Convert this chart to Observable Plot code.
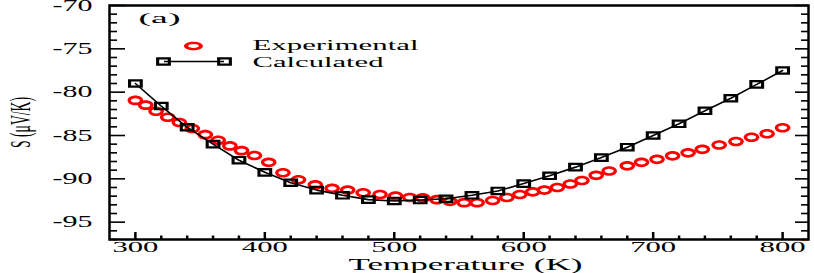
<!DOCTYPE html>
<html>
<head>
<meta charset="utf-8">
<script src="https://cdn.jsdelivr.net/npm/d3@7"></script>
<script src="https://cdn.jsdelivr.net/npm/@observablehq/plot@0.6"></script>
<style>
  html, body { margin: 0; padding: 0; background: #fff; }
  #chart svg { display: block; }
</style>
</head>
<body>
<div id="chart"></div>
<script>
// ---- Data ----
const calcT = [300,320,340,360,380,400,420,440,460,480,500,520,540,560,580,600,620,640,660,680,700,720,740,760,780,800];
const calcS = [-79.0,-81.6,-84.05,-86.0,-87.85,-89.25,-90.45,-91.3,-91.9,-92.4,-92.55,-92.45,-92.3,-91.9,-91.4,-90.55,-89.65,-88.65,-87.55,-86.35,-85.0,-83.65,-82.15,-80.7,-79.1,-77.5];

const expT = [300,308,316,325,334,344,354,364,373,382,392,403,414,426,439,452,464,476,489,501,512,522,533,543,554,564,576,587,597,607,616,626,636,645,656,666,680,691,703,715,727,738,751,764,776,788,800];
const expS = [-80.95,-81.5,-82.2,-82.9,-83.5,-84.2,-84.9,-85.55,-86.2,-86.75,-87.3,-88.1,-89.3,-90.1,-90.7,-91.1,-91.3,-91.6,-91.8,-92.0,-92.15,-92.2,-92.4,-92.6,-92.75,-92.75,-92.5,-92.15,-91.8,-91.5,-91.3,-91.0,-90.6,-90.2,-89.6,-89.1,-88.5,-88.1,-87.75,-87.35,-87.0,-86.6,-86.1,-85.7,-85.2,-84.8,-84.1];

const xMajor = [300,400,500,600,700,800];
const yMajor = [-95,-90,-85,-80,-75,-70];
const xMinor = d3.range(300, 801, 20).filter(v => v % 100 !== 0);
const yMinor = d3.range(-97, -70, 1).filter(v => v % 5 !== 0);

const seriesNames = ["Experimental", "Calculated"];
const panelLabel = "(a)";
const xLabel = "Temperature (K)";
const yLabel = "S (\u03BCV/K)";

const calc = calcT.map((t, i) => ({T: t, S: calcS[i]}));
const exp = expT.map((t, i) => ({T: t, S: expS[i]}));

// ---- custom symbols (rings with thicker sides, like the stretched original) ----
function ellipsePath(ctx, rx, ry, cw) {
  const k = 0.5523;
  ctx.moveTo(rx, 0);
  if (cw) {
    ctx.bezierCurveTo(rx, k*ry, k*rx, ry, 0, ry);
    ctx.bezierCurveTo(-k*rx, ry, -rx, k*ry, -rx, 0);
    ctx.bezierCurveTo(-rx, -k*ry, -k*rx, -ry, 0, -ry);
    ctx.bezierCurveTo(k*rx, -ry, rx, -k*ry, rx, 0);
  } else {
    ctx.bezierCurveTo(rx, -k*ry, k*rx, -ry, 0, -ry);
    ctx.bezierCurveTo(-k*rx, -ry, -rx, -k*ry, -rx, 0);
    ctx.bezierCurveTo(-rx, k*ry, -k*rx, ry, 0, ry);
    ctx.bezierCurveTo(k*rx, ry, rx, k*ry, rx, 0);
  }
  ctx.closePath();
}
function rectPath(ctx, hw, hh, cw) {
  if (cw) {
    ctx.moveTo(-hw, -hh); ctx.lineTo(hw, -hh); ctx.lineTo(hw, hh); ctx.lineTo(-hw, hh);
  } else {
    ctx.moveTo(-hw, -hh); ctx.lineTo(-hw, hh); ctx.lineTo(hw, hh); ctx.lineTo(hw, -hh);
  }
  ctx.closePath();
}
const ringEllipse = (a, b, c, d) => ({draw(ctx) { ellipsePath(ctx, a, b, true); ellipsePath(ctx, c, d, false); }});
const ringRect = (a, b, c, d) => ({draw(ctx) { rectPath(ctx, a, b, true); rectPath(ctx, c, d, false); }});
const hSegment = (half) => ({draw(ctx) { ctx.moveTo(-half, 0); ctx.lineTo(half, 0); }});

const expSym = ringEllipse(7.8, 4.8, 4.5, 2.2);
const calcSym = ringRect(7.4, 4.3, 4.3, 2.1);
const legExpSym = ringEllipse(9.5, 4.3, 5.4, 1.9);

// ---- geometry ----
const W = 814, H = 273, mL = 109, mR = 6, mT = 5, mB = 34;
const fw = W - mL - mR, fh = H - mT - mB;
const FONT = "Liberation Serif";

const chart = Plot.plot({
  width: W, height: H,
  marginLeft: mL, marginRight: mR, marginTop: mT, marginBottom: mB,
  style: {fontFamily: FONT, background: "#fff", color: "#000", overflow: "visible"},
  x: {domain: [280, 820], axis: null},
  y: {domain: [-97, -70], axis: null},
  marks: [
    // ticks (inward)
    Plot.tickX(xMajor, {x: d => d, stroke: "#000", strokeWidth: 2.5, insetTop: fh - 7}),
    Plot.tickX(xMinor, {x: d => d, stroke: "#000", strokeWidth: 2.5, insetTop: fh - 3.5}),
    Plot.tickY(yMajor, {y: d => d, stroke: "#000", strokeWidth: 1.6, insetRight: fw - 16}),
    Plot.tickY(yMinor, {y: d => d, stroke: "#000", strokeWidth: 1.6, insetRight: fw - 8}),
    Plot.tickY(yMajor, {y: d => d, stroke: "#000", strokeWidth: 1.6, insetLeft: fw - 13}),
    Plot.tickY(yMinor, {y: d => d, stroke: "#000", strokeWidth: 1.6, insetLeft: fw - 7}),
    Plot.frame({stroke: "#000", strokeWidth: 2.5}),
    // axis labels
    Plot.axisX({ticks: xMajor, tickSize: 0, tickPadding: 3, fontSize: 14, label: null, tickFormat: d => String(d)}),
    Plot.axisY({ticks: yMajor, tickSize: 0, tickPadding: 17, fontSize: 16, label: null, tickFormat: d => "-" + Math.abs(d)}),
    // data
    Plot.dot(exp, {x: "T", y: "S", symbol: expSym, fill: "#ff0000"}),
    Plot.line(calc, {x: "T", y: "S", stroke: "#000", strokeWidth: 1.6}),
    Plot.dot(calc, {x: "T", y: "S", symbol: calcSym, fill: "#000"}),
    // legend
    Plot.text([panelLabel], {frameAnchor: "top-left", dx: 29, dy: 17, text: d => d, textAnchor: "start", lineAnchor: "bottom", fontSize: 15, fill: "#000"}),
    Plot.dot([seriesNames[0]], {frameAnchor: "top-left", dx: 84, dy: 40.5, symbol: legExpSym, fill: "#ff0000"}),
    Plot.text([seriesNames[0]], {frameAnchor: "top-left", dx: 143, dy: 44.5, text: d => d, textAnchor: "start", lineAnchor: "bottom", fontSize: 15, fill: "#000"}),
    Plot.dot([seriesNames[1]], {frameAnchor: "top-left", dx: 84.5, dy: 56, symbol: hSegment(30), stroke: "#000", strokeWidth: 1.6}),
    Plot.dot([seriesNames[1]], {frameAnchor: "top-left", dx: 54, dy: 56, symbol: calcSym, fill: "#000"}),
    Plot.dot([seriesNames[1]], {frameAnchor: "top-left", dx: 115, dy: 56, symbol: calcSym, fill: "#000"}),
    Plot.text([seriesNames[1]], {frameAnchor: "top-left", dx: 143, dy: 61, text: d => d, textAnchor: "start", lineAnchor: "bottom", fontSize: 15, fill: "#000"}),
    // axis titles
    Plot.text([xLabel], {frameAnchor: "bottom", dx: 6.5, dy: 30.5, text: d => d, textAnchor: "middle", lineAnchor: "bottom", fontSize: 17, fill: "#000"}),
    Plot.text([yLabel], {frameAnchor: "left", dx: -89, dy: 0, text: d => d, rotate: -90, textAnchor: "middle", lineAnchor: "middle", fontSize: 15, fill: "#000"})
  ]
});

document.getElementById("chart").appendChild(chart);

// stretch texts horizontally to mimic the widened original
const widths = {"(a)": 42, "Experimental": 166, "Calculated": 131, "Temperature (K)": 234};
d3.select(chart).selectAll("text").each(function() {
  const t = this.textContent;
  const el = d3.select(this);
  if (widths[t] !== undefined) {
    el.attr("textLength", widths[t]).attr("lengthAdjust", "spacingAndGlyphs");
  } else if (/^\d{3}$/.test(t)) {
    el.attr("textLength", 46).attr("lengthAdjust", "spacingAndGlyphs");
  } else if (/^-\d{2}$/.test(t)) {
    el.attr("textLength", 40).attr("lengthAdjust", "spacingAndGlyphs");
  } else if (t === yLabel) {
    el.attr("textLength", 51).attr("lengthAdjust", "spacingAndGlyphs");
    const tr = el.attr("transform") || "";
    el.attr("transform", tr + " scale(1,2.0)");
  }
});
</script>
</body>
</html>
